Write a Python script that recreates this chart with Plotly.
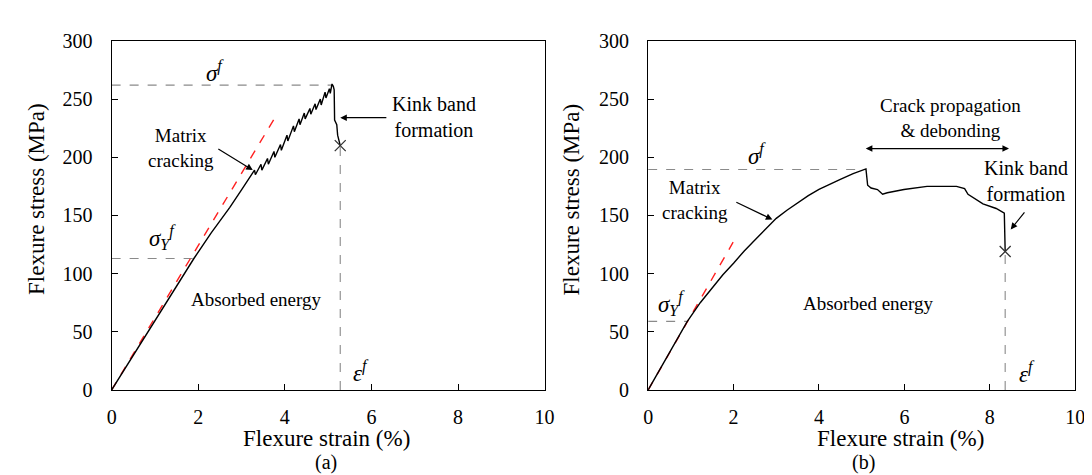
import plotly.graph_objects as go

# ---------------- data ----------------
# (a) left panel curve
strain_a = [0, 0.5, 1.0, 1.5, 1.9, 2.3, 2.73, 3.0, 3.2, 3.30, 3.32, 3.45, 3.47, 3.60, 3.62, 3.75, 3.77,
            3.90, 3.92, 4.05, 4.07, 4.20, 4.22, 4.33, 4.35, 4.45, 4.47, 4.58, 4.60, 4.70, 4.72,
            4.82, 4.84, 4.93, 4.95, 5.03, 5.05, 5.09, 5.12, 5.14, 5.15, 5.20, 5.22, 5.28]
stress_a = [0, 30, 60, 90, 113, 135, 157, 172, 183, 189, 185, 194, 189, 199, 194, 205, 200,
            211, 206, 219, 214, 227, 222, 233, 228, 238, 233, 242, 237, 246, 241,
            250, 245, 256, 251, 259, 255, 263, 261, 258, 232, 228, 219, 210]
# (b) right panel curve
strain_b = [0, 0.45, 0.91, 1.22, 1.5, 1.75, 2.0, 2.25, 2.5, 2.75, 3.0, 3.25, 3.5, 3.75, 4.0, 4.25, 4.5,
            4.8, 5.10, 5.14, 5.22, 5.37, 5.49, 5.6, 5.99, 6.53, 7.22, 7.41, 7.49, 7.84, 8.15, 8.34, 8.36]
stress_b = [0, 29, 58.5, 75, 88, 99, 109, 119.5, 129, 138.5, 147.5, 154.5, 161, 167, 172.5, 177, 181,
            186, 190, 176, 173.6, 172.3, 168.2, 169.5, 172.3, 175, 175, 173, 168.2, 160, 156, 152, 119]

# linear (elastic) reference lines
elastic_a_x = [0, 3.77]
elastic_a_y = [0, 234]
elastic_b_x = [0, 1.99]
elastic_b_y = [0, 127]

# characteristic values
sigma_f = [262, 189.5]      # flexural strength
strain_at_peak = [5.09, 5.10]
sigma_y = [113, 59]         # yield-like stress
strain_at_y = [1.9, 0.91]
eps_f = [5.28, 8.36]        # failure strain
stress_at_fail = [210, 119]

x_ticks = [0, 2, 4, 6, 8, 10]
y_ticks = [0, 50, 100, 150, 200, 250, 300]

FONT = "Liberation Serif"
W, H = 1092, 475

fig = go.Figure()

panels = [("x", "y", strain_a, stress_a, elastic_a_x, elastic_a_y),
          ("x2", "y2", strain_b, stress_b, elastic_b_x, elastic_b_y)]

for i, (xa, ya, sx, sy, ex, ey) in enumerate(panels):
    gray = dict(color="#8a8a8a", width=1.1, dash="dash")
    # guide lines
    fig.add_trace(go.Scatter(x=[0, strain_at_peak[i]], y=[sigma_f[i], sigma_f[i]], mode="lines",
                             line=gray, xaxis=xa, yaxis=ya, showlegend=False, hoverinfo="skip"))
    fig.add_trace(go.Scatter(x=[0, strain_at_y[i]], y=[sigma_y[i], sigma_y[i]], mode="lines",
                             line=gray, xaxis=xa, yaxis=ya, showlegend=False, hoverinfo="skip"))
    fig.add_trace(go.Scatter(x=[eps_f[i], eps_f[i]], y=[0, stress_at_fail[i]], mode="lines",
                             line=gray, xaxis=xa, yaxis=ya, showlegend=False, hoverinfo="skip"))
    # elastic line
    fig.add_trace(go.Scatter(x=ex, y=ey, mode="lines", line=dict(color="#ff2020", width=1.4, dash="dash"),
                             xaxis=xa, yaxis=ya, showlegend=False, hoverinfo="skip"))
    # curve
    fig.add_trace(go.Scatter(x=sx, y=sy, mode="lines", line=dict(color="black", width=1.4),
                             xaxis=xa, yaxis=ya, showlegend=False))
    # failure marker
    fig.add_trace(go.Scatter(x=[eps_f[i]], y=[stress_at_fail[i]], mode="markers",
                             marker=dict(symbol="x-thin", size=11, line=dict(color="#333", width=1.3)),
                             xaxis=xa, yaxis=ya, showlegend=False))

axis_common = dict(range=[0, 10], tickvals=x_ticks, ticks="inside", ticklen=6, tickcolor="black",
                   showline=True, linecolor="black", linewidth=1.3, mirror=True, showgrid=False,
                   zeroline=False, tickfont=dict(family=FONT, size=20, color="black"),
                   ticklabelstandoff=9)
yaxis_common = dict(range=[0, 300], tickvals=y_ticks, ticks="inside", ticklen=6, tickcolor="black",
                    showline=True, linecolor="black", linewidth=1.3, mirror=True, showgrid=False,
                    zeroline=False, tickfont=dict(family=FONT, size=20, color="black"),
                    ticklabelstandoff=14)

dom_y = [1 - 389 / H, 1 - 23 / H]
fig.update_layout(
    width=W, height=H, margin=dict(l=0, r=0, t=0, b=0),
    paper_bgcolor="white", plot_bgcolor="white",
    xaxis=dict(domain=[100 / W, 539 / W], anchor="y", **axis_common),
    yaxis=dict(domain=dom_y, anchor="x", **yaxis_common),
    xaxis2=dict(domain=[644 / W, 1077 / W], anchor="y2", **axis_common),
    yaxis2=dict(domain=dom_y, anchor="x2", **yaxis_common),
    font=dict(family=FONT, size=19, color="black"),
)

ann = []
def txt(x, y, t, xref="x", yref="y", size=19, **kw):
    ann.append(dict(x=x, y=y, xref=xref, yref=yref, text=t, showarrow=False,
                    xanchor="center", yanchor="middle",
                    font=dict(family=FONT, size=size, color="black"), **kw))

def arrow(x, y, ax, ay, xref="x", yref="y", side="end"):
    ann.append(dict(x=x, y=y, ax=ax, ay=ay, xref=xref, yref=yref, axref=xref, ayref=yref,
                    text="", showarrow=True, arrowhead=2, arrowsize=1.1, arrowwidth=1.2,
                    arrowcolor="black", arrowside=side))

SIG_F = "<i>σ</i><sup><i>f</i></sup>"
SIG_Y = "<i>σ</i><sub><i>Y</i></sub><sup><i>f</i></sup>"
EPS_F = "<i>ε</i><sup><i>f</i></sup>"

# panel (a)
txt(2.39, 274, SIG_F, size=23)
txt(1.18, 131, SIG_Y, size=23)
txt(1.6, 208, "Matrix<br>cracking")
arrow(3.26, 189, 2.43, 208)
txt(7.44, 235, "Kink band<br>formation", size=20)
arrow(5.28, 234, 6.38, 234)
txt(3.34, 78, "Absorbed energy")
txt(5.77, 16, EPS_F, size=23)

# panel (b)
txt(2.56, 202, SIG_F, xref="x2", yref="y2", size=23)
txt(0.55, 74, SIG_Y, xref="x2", yref="y2", size=23)
txt(1.1, 163, "Matrix<br>cracking", xref="x2", yref="y2")
arrow(2.91, 146.5, 2.03, 162, xref="x2", yref="y2")
txt(7.07, 234, "Crack propagation<br>&amp; debonding", xref="x2", yref="y2")
arrow(8.45, 207.5, 5.06, 207.5, xref="x2", yref="y2", side="end+start")
txt(8.84, 180, "Kink band<br>formation", xref="x2", yref="y2", size=20)
arrow(8.49, 138, 8.84, 154, xref="x2", yref="y2")
txt(5.14, 74, "Absorbed energy", xref="x2", yref="y2")
txt(8.87, 15, EPS_F, xref="x2", yref="y2", size=23)

# axis titles and captions (paper coords)
txt(24 / W, 1 - 189 / H, "Flexure stress (MPa)", xref="paper", yref="paper", size=23, textangle=-90)
txt(566 / W, 1 - 189 / H, "Flexure stress (MPa)", xref="paper", yref="paper", size=23, textangle=-90)
txt(318 / W, 1 - 440 / H, "Flexure strain (%)", xref="paper", yref="paper", size=23)
txt(900 / W, 1 - 440 / H, "Flexure strain (%)", xref="paper", yref="paper", size=23)
txt(317 / W, 1 - 465 / H, "(a)", xref="paper", yref="paper", size=20)
txt(862 / W, 1 - 465 / H, "(b)", xref="paper", yref="paper", size=20)

fig.update_layout(annotations=ann)
fig.write_html("out.html")
